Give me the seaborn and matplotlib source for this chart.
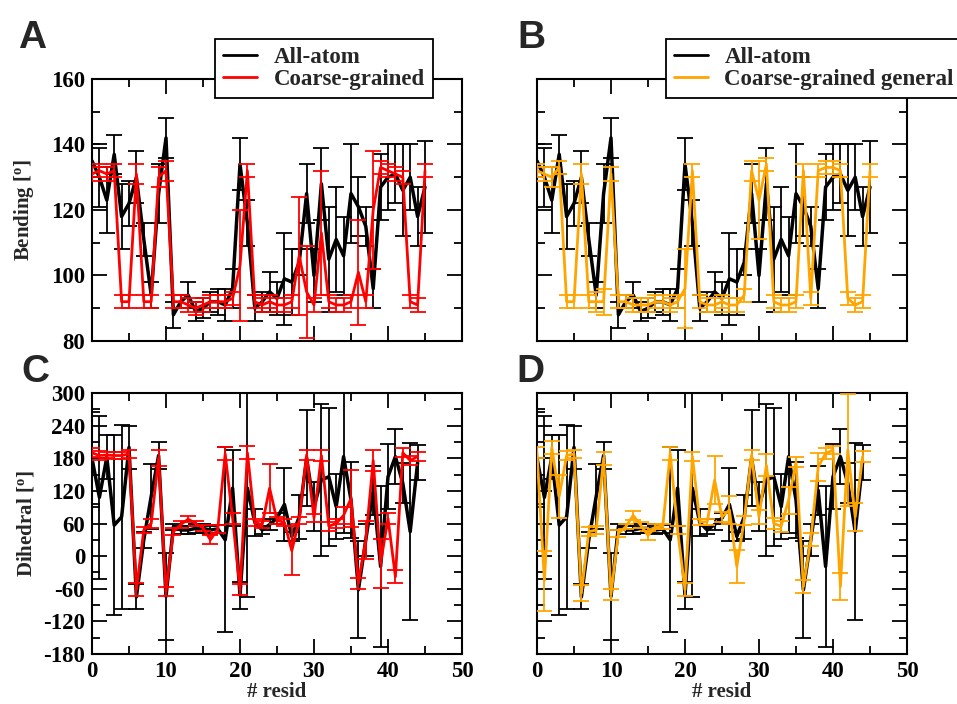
import matplotlib
matplotlib.use("Agg")
import matplotlib.pyplot as plt
from matplotlib.lines import Line2D
from matplotlib.ticker import MultipleLocator
import seaborn as sns

# bending angles, residues 0..45
resid_bend = list(range(46))
bend_aa = [135, 130, 123, 137, 118, 122, 130, 111, 94, 125,
           142, 88, 92, 94, 89, 90, 92, 92, 91, 96,
           134, 116, 90, 92, 95, 93, 99, 98, 104, 125,
           100, 128, 105, 111, 106, 125, 121, 115, 96, 127,
           130, 131, 126, 130, 118, 127]
bend_aa_err = [5, 9, 10, 6, 10, 7, 8, 5, 4, 9,
               6, 4, 2, 4, 3, 3, 3, 4, 5, 6,
               8, 7, 4, 3, 6, 5, 14, 10, 4, 9,
               8, 11, 16, 16, 12, 15, 9, 6, 6, 10,
               10, 9, 14, 10, 9, 14]
bend_cg = [131, 132, 131, 132, 92, 92, 131, 92, 92, 130,
           132, 92, 92, 91, 90, 91, 92, 92, 92, 93,
           103, 132, 92, 91, 92, 91, 91, 92, 106, 95,
           91, 113, 92, 91, 91, 92, 101, 92, 120, 133,
           132, 131, 130, 92, 91, 132]
bend_cg_err = [2, 2, 2, 2, 2, 2, 3, 2, 2, 3,
               3, 2, 2, 2, 2, 2, 2, 2, 2, 2,
               17, 2, 2, 2, 2, 2, 2, 2, 18, 14,
               2, 19, 2, 2, 2, 2, 16, 2, 18, 2,
               2, 2, 2, 2, 2, 2]
bend_cgg = [132, 131, 130, 133, 92, 92, 131, 92, 92, 92,
            131, 92, 92, 91, 91, 91, 92, 92, 91, 92,
            96, 132, 92, 91, 91, 92, 91, 91, 94, 132,
            123, 134, 92, 91, 91, 92, 132, 93, 132, 133,
            133, 132, 93, 91, 92, 132]
bend_cgg_err = [2, 2, 3, 2, 2, 2, 3, 2, 3, 4,
                2, 2, 2, 2, 2, 2, 2, 2, 2, 2,
                12, 2, 2, 2, 2, 2, 2, 2, 2, 3,
                12, 2, 2, 2, 2, 2, 2, 2, 2, 2,
                2, 2, 2, 2, 2, 2]

# dihedral angles, residues 0..44
resid_dih = list(range(45))
dih_aa = [180, 108, 182, 57, 72, 200, -75, 30, 110, 185,
          -74, 54, 48, 48, 51, 51, 48, 50, 30, 125,
          -72, 125, 62, 48, 58, 70, 95, 36, 72, 180,
          91, 140, 146, 91, 183, 103, -62, 30, 121, -19,
          146, 183, 134, 45, 172]
dih_aa_err = [85, 150, 40, 165, 170, 40, 23, 15, 60, 25,
              80, 6, 8, 8, 8, 8, 8, 8, 170, 70,
              25, 200, 25, 8, 10, 10, 67, 8, 40, 88,
              45, 140, 127, 60, 140, 70, 89, 30, 45, 148,
              60, 50, 37, 163, 32]
dih_cg = [190, 185, 186, 185, 185, 188, -62, 48, 60, 180,
          -65, 45, 58, 68, 60, 52, 30, 50, 188, 70,
          -62, 190, 62, 58, 125, 66, 62, 10, 66, 186,
          70, 185, 55, 60, 75, 106, -50, 30, 176, -13,
          69, -38, 190, 176, 183]
dih_cg_err = [8, 8, 6, 6, 6, 8, 12, 6, 8, 15,
              8, 6, 6, 6, 5, 5, 8, 8, 12, 10,
              10, 12, 6, 6, 45, 6, 6, 45, 6, 10,
              8, 10, 8, 8, 15, 52, 10, 35, 20, 45,
              10, 12, 8, 8, 8]
dih_cgg = [190, -45, 200, 110, 185, 188, -68, 45, 48, 180,
           -70, 42, 54, 75, 57, 38, 54, 55, 189, 48,
           -62, 183, 63, 63, 140, 72, 85, -19, 66, 186,
           72, 167, 60, 55, 103, 173, -56, 30, 164, 189,
           195, -56, 195, 72, 183]
dih_cgg_err = [10, 55, 12, 40, 8, 8, 15, 8, 8, 12,
               10, 6, 5, 8, 5, 8, 5, 5, 12, 8,
               12, 8, 6, 6, 45, 10, 25, 30, 8, 10,
               12, 20, 10, 10, 25, 10, 12, 12, 25, 10,
               8, 25, 103, 25, 10]

sns.set_style("ticks")
plt.rcParams['font.family'] = ['Liberation Serif', 'DejaVu Serif']
plt.rcParams['font.weight'] = 'bold'
plt.rcParams['axes.labelweight'] = 'bold'
plt.rcParams['axes.unicode_minus'] = False
plt.rcParams['mathtext.fontset'] = 'custom'
plt.rcParams['mathtext.rm'] = 'Liberation Serif:bold'
plt.rcParams['mathtext.it'] = 'Liberation Serif:bold'

W, H = 957, 704
fig = plt.figure(figsize=(W / 100, H / 100), dpi=100)


def px_axes(l, t, r, b):
    return fig.add_axes([l / W, 1 - b / H, (r - l) / W, (b - t) / H])


ax_a = px_axes(92, 79, 462, 341)
ax_b = px_axes(537, 79, 907, 341)
ax_c = px_axes(92, 393, 462, 654)
ax_d = px_axes(537, 393, 907, 654)


def draw(ax, x, ref, ref_err, cg, cg_err, color):
    ax.errorbar(x, ref, yerr=ref_err, fmt='none', ecolor='black',
                elinewidth=1.3, capsize=5.5, capthick=1.3, zorder=2)
    sns.lineplot(x=x, y=ref, ax=ax, color='black', linewidth=2.5, zorder=3)
    ax.errorbar(x, cg, yerr=cg_err, fmt='none', ecolor=color,
                elinewidth=1.3, capsize=5.5, capthick=1.3, zorder=4)
    sns.lineplot(x=x, y=cg, ax=ax, color=color, linewidth=2.0, zorder=5)


def style(ax, ylim, ymaj, ymin):
    ax.set_xlim(0, 50)
    ax.set_ylim(*ylim)
    ax.xaxis.set_major_locator(MultipleLocator(10))
    ax.xaxis.set_minor_locator(MultipleLocator(5))
    ax.yaxis.set_major_locator(MultipleLocator(ymaj))
    ax.yaxis.set_minor_locator(MultipleLocator(ymin))
    ax.tick_params(which='both', direction='in', top=True, right=True,
                   width=1.3, colors='black')
    ax.tick_params(which='major', length=11, labelsize=16.5, pad=5)
    ax.tick_params(which='minor', length=5.5)
    for s in ax.spines.values():
        s.set_linewidth(1.5)
        s.set_color('black')
    ax.set_xlabel('')
    ax.set_ylabel('')


draw(ax_a, resid_bend, bend_aa, bend_aa_err, bend_cg, bend_cg_err, 'red')
draw(ax_b, resid_bend, bend_aa, bend_aa_err, bend_cgg, bend_cgg_err, 'orange')
draw(ax_c, resid_dih, dih_aa, dih_aa_err, dih_cg, dih_cg_err, 'red')
draw(ax_d, resid_dih, dih_aa, dih_aa_err, dih_cgg, dih_cgg_err, 'orange')

for ax in (ax_a, ax_b):
    style(ax, (80, 160), 20, 10)
    ax.tick_params(labelbottom=False)
for ax in (ax_c, ax_d):
    style(ax, (-180, 300), 60, 30)
    ax.set_xlabel('# resid', fontsize=15, labelpad=0)
for ax in (ax_b, ax_d):
    ax.tick_params(labelleft=False)

ax_a.set_ylabel(r'Bending [$^{\rm o}$]', fontsize=15)
ax_a.yaxis.set_label_coords(-0.15, 0.5)
ax_c.set_ylabel(r'Dihedral [$^{\rm o}$]', fontsize=15)
ax_c.yaxis.set_label_coords(-0.15, 0.5)

for ax, lab, color, x0 in ((ax_a, 'Coarse-grained', 'red', 215),
                           (ax_b, 'Coarse-grained general', 'orange', 666)):
    handles = [Line2D([], [], color='black', lw=2), Line2D([], [], color=color, lw=2)]
    leg = ax.legend(handles, ['All-atom', lab], loc='upper left',
                    bbox_to_anchor=(x0 / W, 1 - 39 / H), bbox_transform=fig.transFigure,
                    borderaxespad=0, frameon=True, fancybox=False, edgecolor='black',
                    framealpha=1, fontsize=16.5, handlelength=1.5, handletextpad=0.7,
                    labelspacing=0.05, borderpad=0.35)
    leg.get_frame().set_linewidth(1.3)
    leg.set_zorder(10)

for lab, x, y in (('A', 18, 20), ('B', 517, 20), ('C', 21, 354), ('D', 516, 354)):
    fig.text(x / W, 1 - y / H, lab, fontsize=28, fontweight='bold',
             family='Liberation Sans', va='top', ha='left')

fig.savefig('out.png', dpi=100)
